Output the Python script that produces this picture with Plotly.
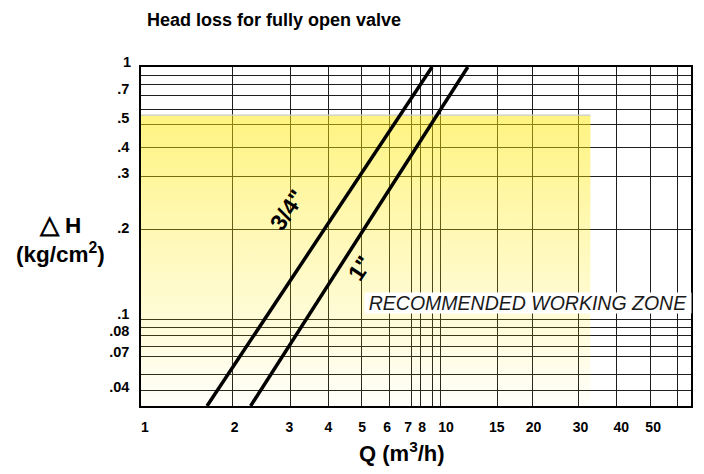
import plotly.graph_objects as go
import math

# ---------------- data ----------------
# flow Q (m3/h) and head loss dH (kg/cm2) along the two valve curves
q_34 = [1.66, 4.09, 9.34]
dh_34 = [0.0512, 0.2, 0.697]
q_1 = [2.32, 5.55, 12.29]
dh_1 = [0.0512, 0.2, 0.697]

# recommended working zone (Q upper limit, dH upper limit)
zone_q = [1.0, 31.5]
zone_dh = [0.0512, 0.481]

# axis extents
x_range = [1.0, 68.2]
y_range = [0.0512, 0.697]

# grid lines as drawn on the sheet
x_grid = [2.02, 3.15, 4.21, 5.42, 6.72, 7.95, 8.58, 9.34, 10.0, 15.47, 20.21, 28.74, 38.44, 49.85, 61.3]
y_grid = [0.655, 0.611, 0.561, 0.503, 0.446, 0.376, 0.301, 0.2, 0.1, 0.094, 0.0884, 0.0812, 0.0747, 0.0655, 0.0579]

# tick labels as printed on the sheet
x_tick_vals = [1.031, 2.053, 3.126, 4.213, 5.465, 6.615, 7.77, 8.65, 10.39, 15.35, 20.37, 29.18, 39.94, 51.0]
x_tick_text = ["1", "2", "3", "4", "5", "6", "7", "8", "10", "15", "20", "30", "40", "50"]
y_tick_vals = [0.588, 0.470, 0.378, 0.308, 0.2015, 0.104, 0.0912, 0.0775, 0.0592]
y_tick_text = [".7", ".5", ".4", ".3", ".2", ".1", ".08", ".07", ".04"]

FONT = "Liberation Sans, Arial, Helvetica, sans-serif"

fig = go.Figure()

# yellow gradient zone
fig.add_trace(go.Scatter(
    x=[zone_q[0], zone_q[1], zone_q[1], zone_q[0], zone_q[0]],
    y=[zone_dh[0], zone_dh[0], zone_dh[1], zone_dh[1], zone_dh[0]],
    mode="lines", fill="toself", line=dict(width=0),
    fillgradient=dict(type="vertical",
                      colorscale=[[0, "rgba(255,232,0,0.02)"], [0.6, "rgba(255,232,0,0.29)"], [1, "rgba(255,232,0,0.5)"]]),
    hoverinfo="skip", showlegend=False))
fig.add_trace(go.Scatter(
    x=[zone_q[0], zone_q[1]], y=[zone_dh[1], zone_dh[1]],
    mode="lines", line=dict(color="#c8c8c8", width=1.2),
    hoverinfo="skip", showlegend=False))

# valve curves
for q, dh in ((q_34, dh_34), (q_1, dh_1)):
    fig.add_trace(go.Scatter(x=q, y=dh, mode="lines",
                             line=dict(color="black", width=3.5),
                             showlegend=False))

fig.update_layout(
    width=704, height=474,
    margin=dict(l=141, r=11, t=67, b=68),
    paper_bgcolor="white", plot_bgcolor="white",
    font=dict(family=FONT, color="black"),
    title=dict(text="<b>Head loss for fully open valve</b>",
               font=dict(size=18, family=FONT, color="black"),
               xref="container", yref="container",
               x=147/704, xanchor="left", y=1-20/474, yanchor="middle"),
)

fig.update_xaxes(
    type="log", range=[math.log10(x_range[0]), math.log10(x_range[1])],
    tickmode="array", tickvals=x_tick_vals, ticktext=x_tick_text,
    tickfont=dict(size=14, family=FONT, color="black", weight="bold"),
    showgrid=False, ticks="", ticklabelstandoff=7,
    minor=dict(tickmode="array", tickvals=x_grid, showgrid=True,
               gridcolor="#1e1e1e", gridwidth=1.3, ticks=""),
    showline=True, linecolor="black", linewidth=1.6, mirror=True,
    zeroline=False,
)
fig.update_yaxes(
    type="log", range=[math.log10(y_range[0]), math.log10(y_range[1])],
    tickmode="array", tickvals=y_tick_vals, ticktext=y_tick_text,
    tickfont=dict(size=14.5, family=FONT, color="black", weight="bold"),
    showgrid=False, ticks="", ticklabelstandoff=7,
    minor=dict(tickmode="array", tickvals=y_grid, showgrid=True,
               gridcolor="#1e1e1e", gridwidth=1.3, ticks=""),
    showline=True, linecolor="black", linewidth=1.6, mirror=True,
    zeroline=False,
)

annotations = [
    # top "1" label sitting above the frame
    dict(text="<b>1</b>", xref="paper", yref="paper", x=-0.0145, y=(406-62)/339,
         xanchor="right", yanchor="middle", showarrow=False,
         font=dict(size=14.5, family=FONT, color="black")),
    # y axis title
    dict(text="<b><span style='font-size:25px'>△</span> H</b><br><b>(kg/cm<sup>2</sup>)</b>",
         xref="paper", yref="paper", x=(60-141)/552, y=(406-238)/339,
         xanchor="center", yanchor="middle", showarrow=False, align="center",
         font=dict(size=22.5, family=FONT, color="black")),
    # x axis title
    dict(text="<b>Q (m<sup>3</sup>/h)</b>", xref="paper", yref="paper",
         x=(403-141)/552, y=(406-452)/339, xanchor="center", yanchor="middle",
         showarrow=False, font=dict(size=22, family=FONT, color="black")),
    # curve labels
    dict(text="<b>3/4\"</b>", xref="paper", yref="paper",
         x=(288-141)/552, y=(406-210)/339, xanchor="center", yanchor="middle",
         textangle=-56, showarrow=False,
         font=dict(size=23, family=FONT, color="black")),
    dict(text="<b>1\"</b>", xref="paper", yref="paper",
         x=(361-141)/552, y=(406-268)/339, xanchor="center", yanchor="middle",
         textangle=-56, showarrow=False,
         font=dict(size=23, family=FONT, color="black")),
    # zone label
    dict(text="<i>RECOMMENDED WORKING ZONE</i>", xref="paper", yref="paper",
         x=(529-141)/552, y=(406-303)/339, xanchor="center", yanchor="middle",
         showarrow=False, bgcolor="white", borderpad=0, height=20, width=326,
         font=dict(size=19.5, family=FONT, color="#1a1a1a")),
]
fig.update_layout(annotations=annotations)

fig.write_html("out.html", config={"displayModeBar": False},
               post_script="document.body.style.margin='0';document.body.style.padding='0';")
